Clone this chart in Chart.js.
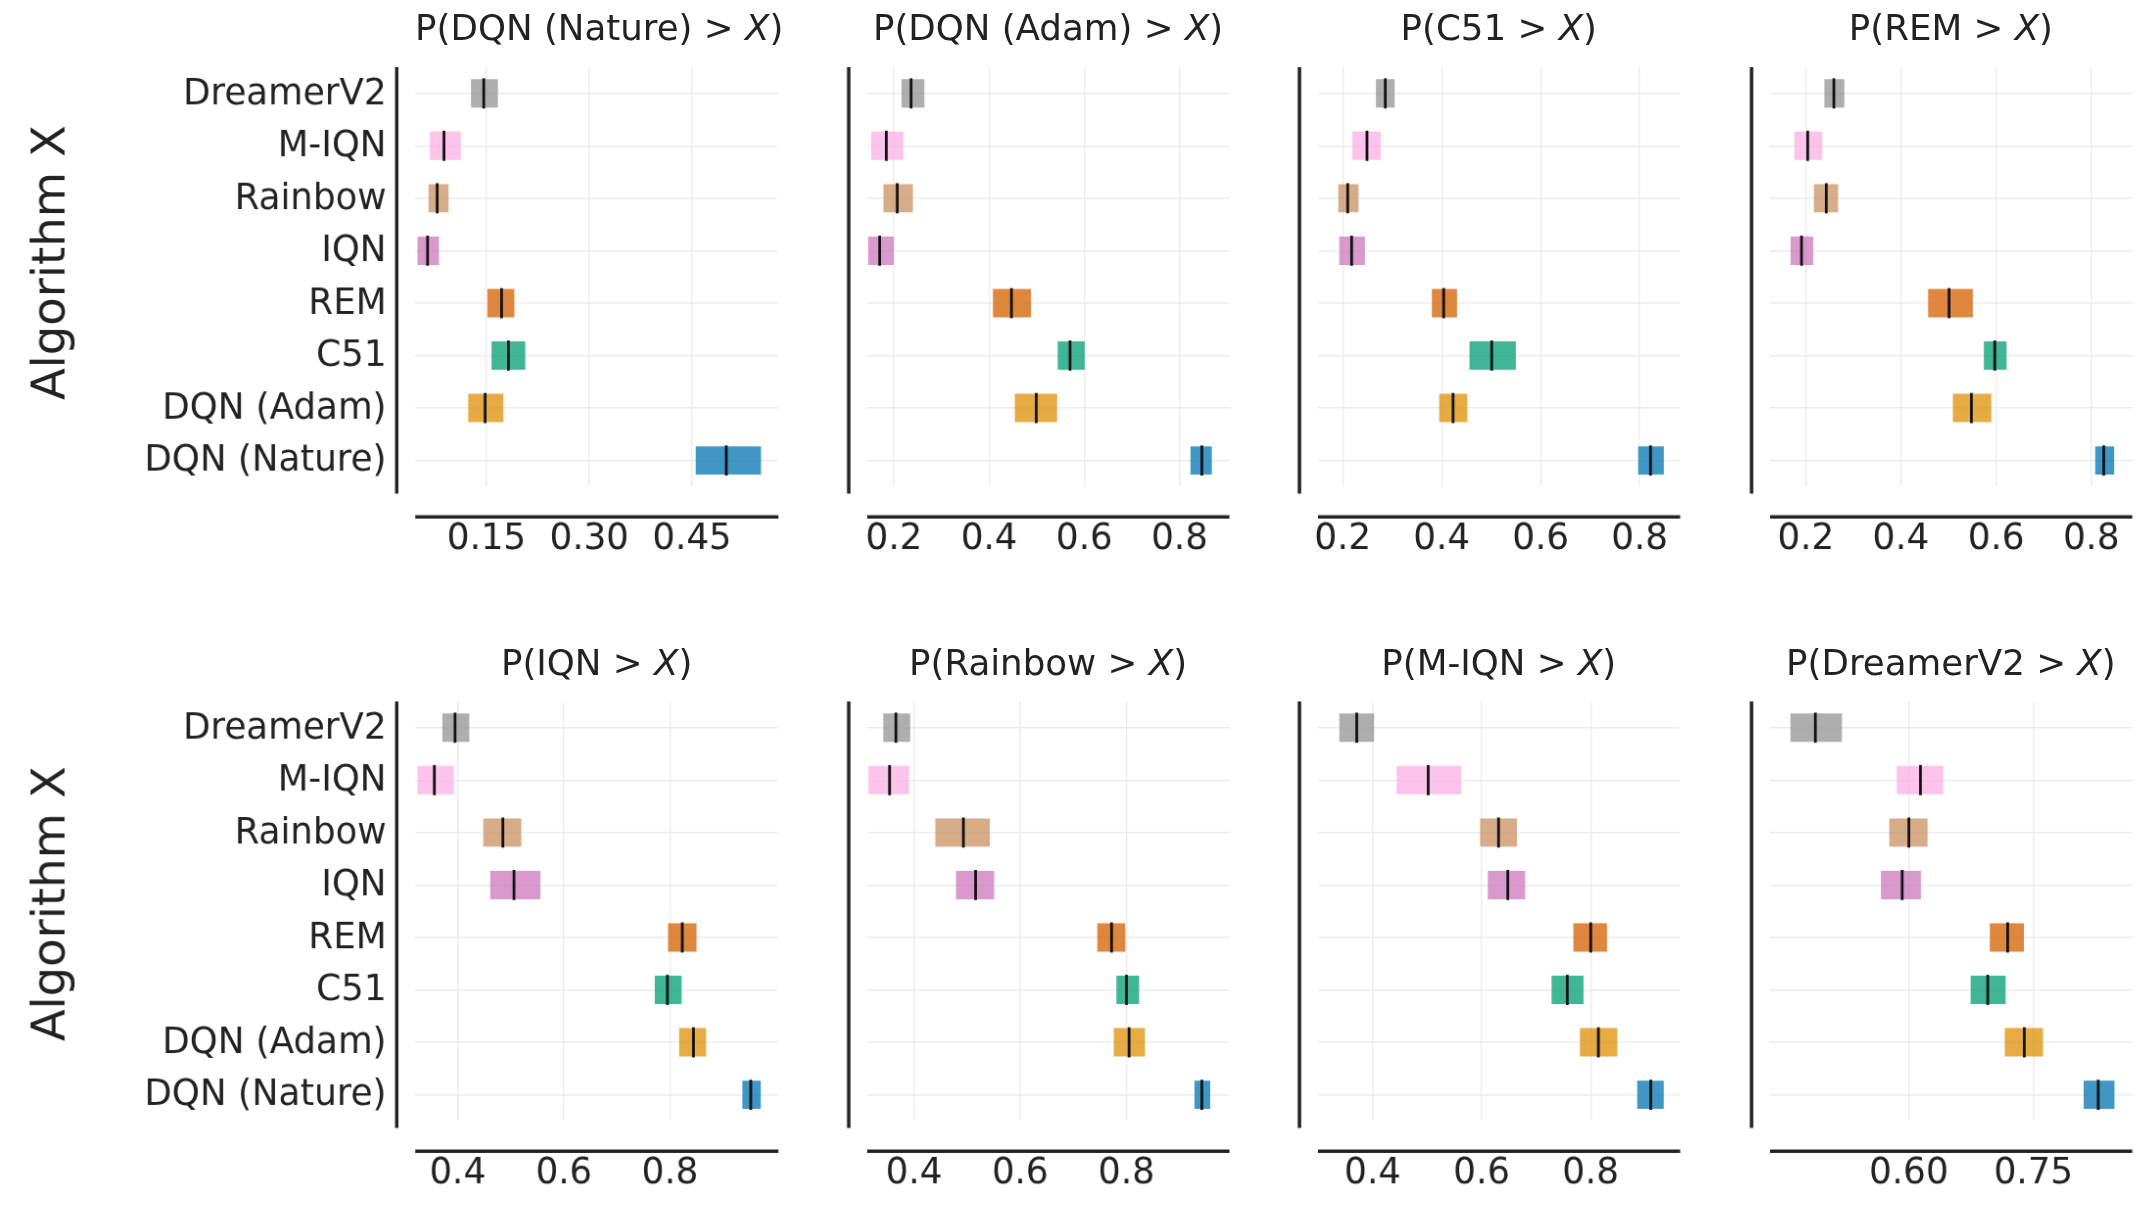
<!DOCTYPE html>
<html><head><meta charset="utf-8">
<script src="https://cdn.jsdelivr.net/npm/chart.js@4"></script>
<style>
html,body{margin:0;padding:0;background:#fff;overflow:hidden}
#stage{position:absolute;left:0;top:0;width:1568px;height:880px;transform:scale(1.37);transform-origin:0 0;font-family:"DejaVu Sans";color:#222}
canvas{position:absolute}
.t{position:absolute;font-size:26px;text-align:center;white-space:nowrap}
.yl{position:absolute;font-size:34px;transform:rotate(-90deg);white-space:nowrap}
</style></head><body><div id="stage"></div>
<script>
const algorithms=["DreamerV2","M-IQN","Rainbow","IQN","REM","C51","DQN (Adam)","DQN (Nature)"];
const colors=["#949494","#fbafe4","#ca9161","#cc78bc","#d55e00","#029e73","#de8f05","#0173b2"];
const titles=["DQN (Nature)","DQN (Adam)","C51","REM","IQN","Rainbow","M-IQN","DreamerV2"];
const lows=[
[0.128,0.068,0.066,0.050,0.152,0.158,0.124,0.456],
[0.217,0.153,0.179,0.147,0.409,0.545,0.455,0.824],
[0.268,0.220,0.192,0.194,0.381,0.457,0.396,0.798],
[0.240,0.177,0.218,0.169,0.458,0.575,0.510,0.809],
[0.372,0.325,0.449,0.462,0.797,0.772,0.818,0.937],
[0.343,0.315,0.441,0.480,0.746,0.782,0.777,0.929],
[0.340,0.445,0.598,0.612,0.769,0.729,0.781,0.886],
[0.458,0.586,0.577,0.567,0.698,0.675,0.716,0.811]];
const highs=[
[0.166,0.112,0.094,0.080,0.190,0.206,0.174,0.550],
[0.263,0.219,0.239,0.199,0.487,0.600,0.542,0.867],
[0.304,0.276,0.231,0.244,0.430,0.549,0.451,0.848],
[0.280,0.234,0.267,0.215,0.550,0.621,0.589,0.847],
[0.421,0.392,0.519,0.555,0.849,0.821,0.867,0.970],
[0.392,0.390,0.542,0.550,0.797,0.823,0.834,0.957],
[0.402,0.562,0.664,0.679,0.829,0.786,0.848,0.933],
[0.519,0.641,0.622,0.614,0.738,0.716,0.761,0.847]];
const medians=[
[0.146,0.088,0.078,0.064,0.172,0.182,0.148,0.500],
[0.236,0.184,0.207,0.170,0.447,0.570,0.499,0.847],
[0.286,0.249,0.210,0.218,0.404,0.501,0.423,0.822],
[0.259,0.204,0.243,0.191,0.501,0.597,0.548,0.826],
[0.395,0.356,0.485,0.506,0.823,0.795,0.844,0.952],
[0.366,0.354,0.493,0.516,0.772,0.800,0.805,0.942],
[0.371,0.502,0.631,0.648,0.800,0.757,0.814,0.910],
[0.4875,0.614,0.600,0.592,0.719,0.695,0.739,0.828]];
const axisMin=[0.046,0.144,0.150,0.125,0.320,0.312,0.300,0.433];
const axisMax=[0.576,0.905,0.882,0.886,1.004,0.994,0.964,0.869];
const tickVals=[[0.15,0.30,0.45],[0.2,0.4,0.6,0.8],[0.2,0.4,0.6,0.8],[0.2,0.4,0.6,0.8],
[0.4,0.6,0.8],[0.4,0.6,0.8],[0.4,0.6,0.8],[0.60,0.75]];
const tickDigits=[2,1,1,1,1,1,1,2];

const stage=document.getElementById('stage');
const spineX=[288,618,947,1277];
const plotRight=[568,897,1226,1556];
const rowTop=[49,512];
const plotH=306, xH=50;
const alpha=c=>c+'c0';
const FONT='26px "DejaVu Sans"';

const medPlugin={id:'med',afterDatasetsDraw(ch){
  const ctx=ch.ctx,x=ch.scales.x,y=ch.scales.y,o=ch.options.plugins.med;
  ctx.save();ctx.strokeStyle='#111';ctx.lineWidth=2;
  o.values.forEach((v,i)=>{const px=x.getPixelForValue(v),py=y.getPixelForValue(i);
    ctx.beginPath();ctx.moveTo(px,py-11);ctx.lineTo(px,py+11);ctx.stroke();});
  const a=ch.chartArea;ctx.strokeStyle='#222';ctx.lineWidth=2.5;
  ctx.beginPath();ctx.moveTo(a.left,a.bottom+22);ctx.lineTo(a.right,a.bottom+22);ctx.stroke();
  const sx=a.left-15+1.5;
  ctx.beginPath();ctx.moveTo(sx,a.top-9);ctx.lineTo(sx,a.bottom+5);ctx.stroke();
  ctx.fillStyle='#222';ctx.font=FONT;ctx.textBaseline='middle';ctx.textAlign='center';
  o.ticks.forEach(v=>ctx.fillText(v.toFixed(o.digits),x.getPixelForValue(v),a.bottom+39));
  if(o.showY){ctx.textAlign='right';
    algorithms.forEach((lab,i)=>ctx.fillText(lab,a.left-21,y.getPixelForValue(i)+1));}
  ctx.restore();}};

for(let p=0;p<8;p++){
  const row=Math.floor(p/4),col=p%4;
  const L=col===0?303:15;
  const left=spineX[col]+15-L;
  const width=plotRight[col]-left+20;
  const cv=document.createElement('canvas');
  cv.style.left=left+'px';cv.style.top=rowTop[row]+'px';
  cv.style.width=width+'px';cv.style.height=(plotH+xH+20)+'px';
  stage.appendChild(cv);
  const t=document.createElement('div');t.className='t';
  t.style.left=(spineX[col]+15)+'px';t.style.width=(plotRight[col]-spineX[col]-15)+'px';
  t.style.top=(row===0?5:469)+'px';
  t.innerHTML='P('+titles[p]+' &gt; <i>X</i>)';
  stage.appendChild(t);
  new Chart(cv,{type:'bar',
    data:{labels:algorithms,datasets:[{data:algorithms.map((a,i)=>[lows[p][i],highs[p][i]]),
      backgroundColor:colors.map(alpha),borderWidth:0,barThickness:20,borderSkipped:false}]},
    options:{indexAxis:'y',responsive:false,animation:false,devicePixelRatio:1.4,
      layout:{padding:{left:0,top:0,right:20,bottom:20}},
      plugins:{legend:{display:false},tooltip:{enabled:false},
        med:{values:medians[p],ticks:tickVals[p],digits:tickDigits[p],showY:col===0}},
      scales:{
        x:{min:axisMin[p],max:axisMax[p],border:{display:false},
          grid:{color:'#ececec',drawTicks:false,lineWidth:1},
          afterBuildTicks:s=>{s.ticks=tickVals[p].map(v=>({value:v}));},
          afterFit:s=>{s.height=xH;},
          ticks:{display:false}},
        y:{border:{display:false},offset:true,
          grid:{color:'#ececec',drawTicks:false,offset:false,lineWidth:1},
          afterFit:s=>{s.width=L;},
          ticks:{display:false}}}},
    plugins:[medPlugin]});
}
[192,660].forEach(c=>{const d=document.createElement('div');d.className='yl';
  d.textContent='Algorithm X';d.style.left=(35-100)+'px';d.style.width='200px';d.style.textAlign='center';
  d.style.top=(c-20)+'px';stage.appendChild(d);});
</script></body></html>
